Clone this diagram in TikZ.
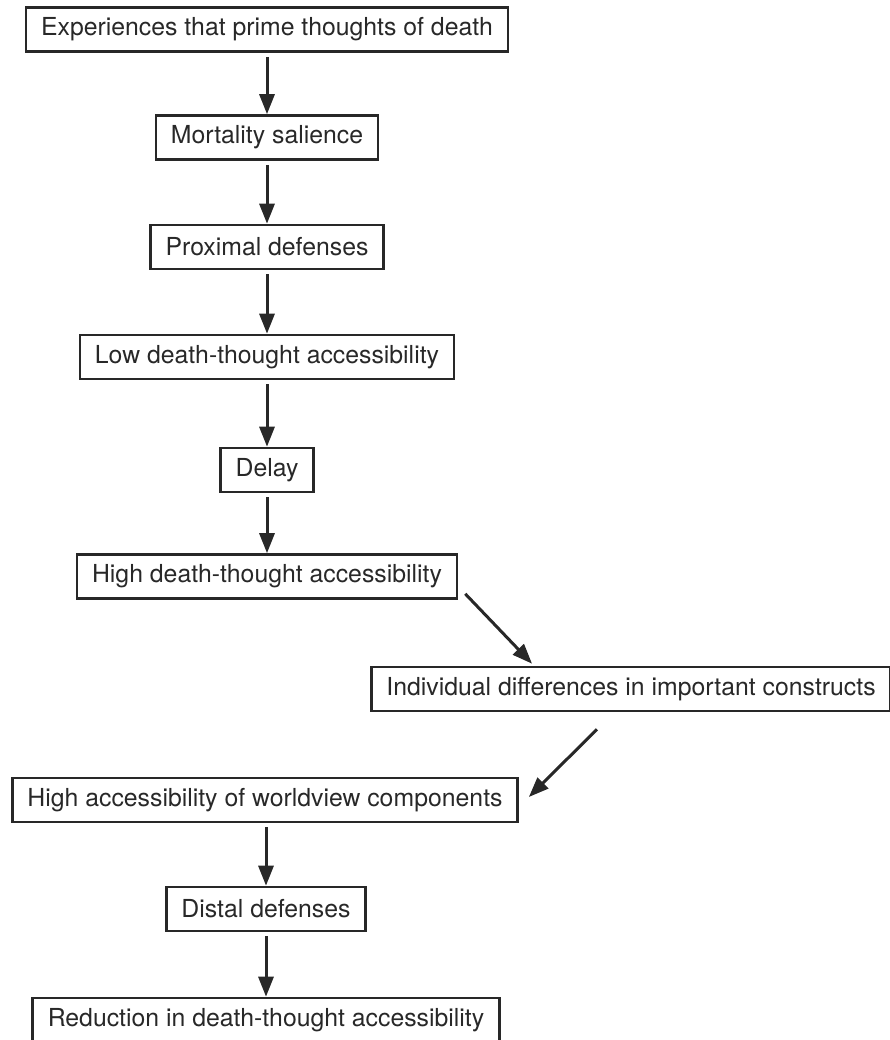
\documentclass[tikz,border=0pt]{standalone}
\usepackage{fontspec}
\setmainfont{TeX Gyre Heros}
\usetikzlibrary{arrows.meta}
\definecolor{ink}{RGB}{40,40,40}

\begin{document}
\begin{tikzpicture}
[x=1pt, y=1pt,
 box/.style={draw=ink, text=ink, line width=2.6pt, inner xsep=15pt, inner ysep=0pt,
   minimum height=44pt, font=\fontsize{24.8}{30}\selectfont},
 arr/.style={draw=ink, line width=3pt, -{Triangle[length=20pt,width=15pt]}}]

\useasboundingbox (0,0) rectangle (890,-1040);

\node[box] (exp)    at (267,-29.5) {Experiences that prime thoughts of death};
\node[box] (mort)   at (267,-137.5) {Mortality salience};
\node[box] (prox)   at (267,-247) {Proximal defenses};
\node[box] (low)    at (267,-357) {Low death-thought accessibility};
\node[box] (delay)  at (267,-470) {Delay};
\node[box] (high)   at (267,-576.5) {High death-thought accessibility};
\node[box] (indiv)  at (631,-689) {Individual differences in important constructs};
\node[box] (world)  at (265,-800) {High accessibility of worldview components};
\node[box] (distal) at (266,-909) {Distal defenses};
\node[box] (reduc)  at (266,-1020) {Reduction in death-thought accessibility};

% main chain
\foreach \a/\b in {exp/mort, mort/prox, prox/low, low/delay, delay/high, world/distal, distal/reduc}
	\draw[arr] ([yshift=-4pt]\b.north |- \a.south) -- (\b.north);

% side branch
\draw[arr] ([xshift=7pt,yshift=6pt]high.south east) -- ([xshift=162pt,yshift=2pt]indiv.north west);
\draw[arr] ([xshift=-34pt,yshift=-17pt]indiv.south) -- ([xshift=10pt,yshift=3pt]world.east);
\end{tikzpicture}
\end{document}
